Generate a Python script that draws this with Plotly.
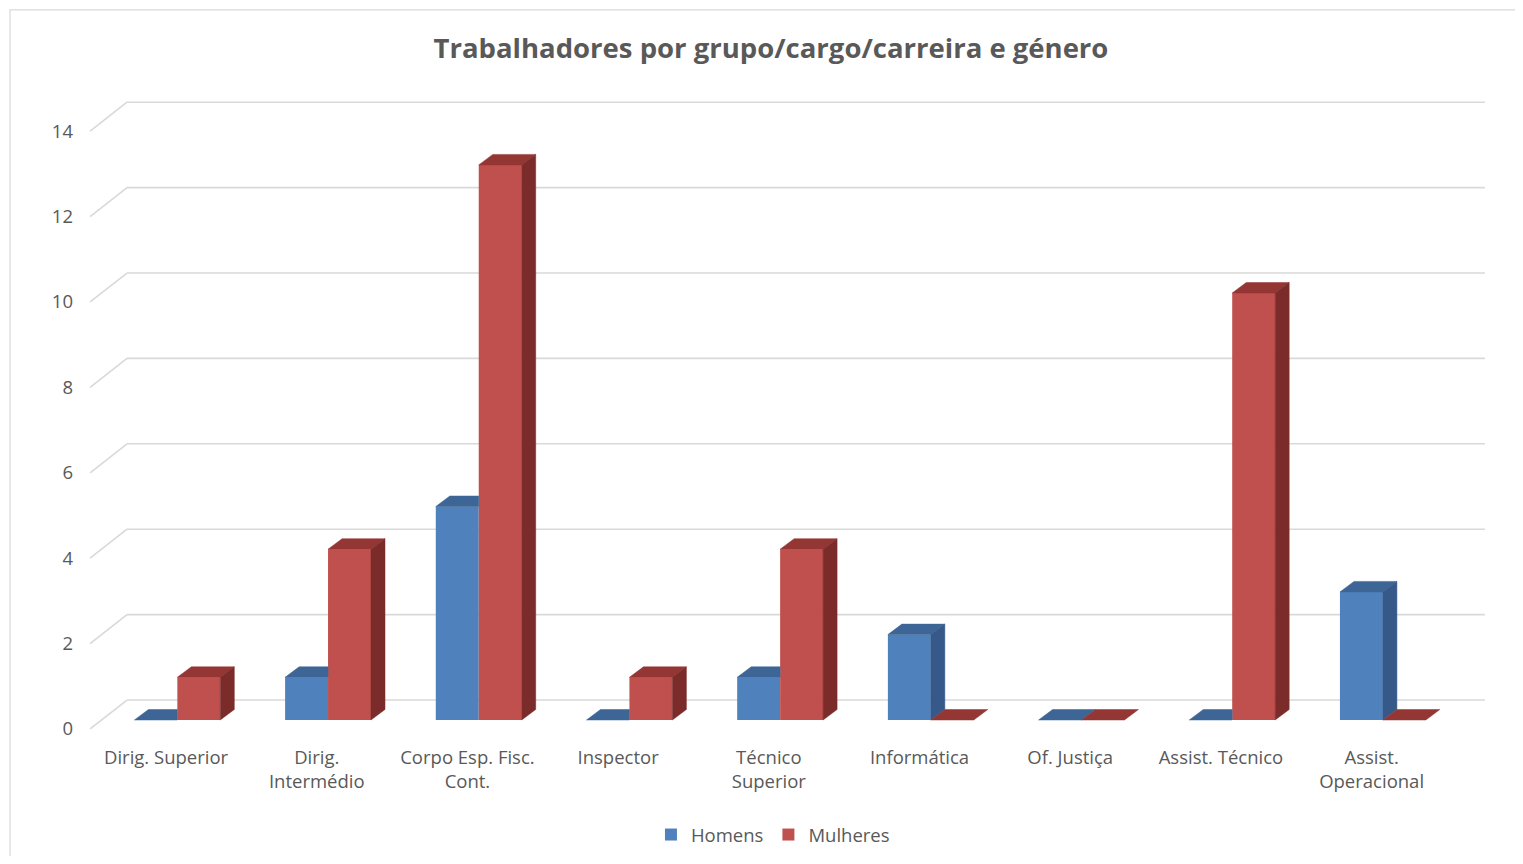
import plotly.graph_objects as go

categories = ["Dirig. Superior", "Dirig.<br>Intermédio", "Corpo Esp. Fisc.<br>Cont.", "Inspector",
              "Técnico<br>Superior", "Informática", "Of. Justiça", "Assist. Técnico", "Assist.<br>Operacional"]
homens = [0, 1, 5, 0, 1, 2, 0, 0, 3]
mulheres = [1, 4, 13, 1, 4, 0, 0, 10, 0]
y_ticks = [0, 2, 4, 6, 8, 10, 12, 14]

# pseudo-3D geometry (style constants, in axis units)
BAR_W = 0.285
OFF_H = -0.21
OFF_M = 0.075
DX = 0.093
DY = 0.246
BACK = 0.468
FRONT = -0.21
GRID_X0 = -0.259
GRID_X1 = 8.752
AXIS_X = -0.504

C_H = dict(front="#4F81BD", top="#3D6595", side="#36598A")
C_M = dict(front="#C0504D", top="#943634", side="#7B2C2A")

xs = list(range(len(categories)))

fig = go.Figure()
fig.add_trace(go.Bar(x=xs, y=homens, width=BAR_W, offset=OFF_H, name="Homens",
                     marker=dict(color=C_H["front"], line=dict(width=0)), hoverinfo="y"))
fig.add_trace(go.Bar(x=xs, y=mulheres, width=BAR_W, offset=OFF_M, name="Mulheres",
                     marker=dict(color=C_M["front"], line=dict(width=0)), hoverinfo="y"))


def poly_trace(px, py, color):
    return go.Scatter(x=px, y=py, mode="lines", fill="toself", fillcolor=color,
                      line=dict(color=color, width=0.5), hoverinfo="skip", showlegend=False)


# Homens top / side faces
tx, ty, sx, sy = [], [], [], []
for i, v in enumerate(homens):
    m = mulheres[i]
    x0 = i + OFF_H
    x1 = x0 + BAR_W
    if m > v:
        tx += [x0, x1, x1, x0 + DX, x0, None]
        ty += [v, v, v + DY, v + DY, v, None]
    else:
        tx += [x0, x1, x1 + DX, x0 + DX, x0, None]
        ty += [v, v, v + DY, v + DY, v, None]
        if v > 0:
            lo = m
            sx += [x1, x1, x1 + DX, x1 + DX, x1, None]
            sy += [lo, v, v + DY, lo + DY, lo, None]
fig.add_trace(poly_trace(tx, ty, C_H["top"]))
if sx:
    fig.add_trace(poly_trace(sx, sy, C_H["side"]))

# Mulheres top / side faces
tx, ty, sx, sy = [], [], [], []
for i, v in enumerate(mulheres):
    x0 = i + OFF_M
    x1 = x0 + BAR_W
    tx += [x0, x1, x1 + DX, x0 + DX, x0, None]
    ty += [v, v, v + DY, v + DY, v, None]
    if v > 0:
        sx += [x1, x1, x1 + DX, x1 + DX, x1, None]
        sy += [0, v, v + DY, DY, 0, None]
fig.add_trace(poly_trace(tx, ty, C_M["top"]))
fig.add_trace(poly_trace(sx, sy, C_M["side"]))

# back-wall gridlines and side-wall diagonals
shapes = []
for t in y_ticks:
    shapes.append(dict(type="line", xref="x", yref="y", x0=GRID_X0, x1=GRID_X1, y0=t + BACK, y1=t + BACK,
                       line=dict(color="#D9D9D9", width=1.6), layer="below"))
    shapes.append(dict(type="line", xref="x", yref="y", x0=AXIS_X, x1=GRID_X0, y0=t + FRONT, y1=t + BACK,
                       line=dict(color="#D9D9D9", width=1.6), layer="below"))
# chart border
shapes.append(dict(type="rect", xref="paper", yref="paper", x0=-0.0493, x1=1.05, y0=-0.3, y1=1.1235,
                   line=dict(color="#D9D9D9", width=1.2), fillcolor="rgba(0,0,0,0)", layer="below"))

fig.update_layout(
    width=1507, height=848,
    margin=dict(l=72, r=15, t=82, b=118, autoexpand=False),
    paper_bgcolor="white", plot_bgcolor="white",
    barmode="overlay",
    shapes=shapes,
    font=dict(family="Open Sans", size=18.5, color="#595959"),
    title=dict(text="Trabalhadores por grupo/cargo/carreira e género", x=0.5063, y=0.9528,
               xref="container", yref="container", xanchor="center", yanchor="middle",
               font=dict(family="Open Sans", size=27.5, color="#595959", weight=700)),
    xaxis=dict(range=[-0.571, 8.852], tickmode="array", tickvals=xs, ticktext=categories,
               showgrid=False, zeroline=False, showline=False, ticks="", ticklabelstandoff=6,
               automargin=False, tickfont=dict(size=18.5, color="#595959"), fixedrange=True),
    yaxis=dict(range=[-0.4215, 14.754], tickmode="array", tickvals=[t + FRONT for t in y_ticks],
               ticktext=[str(t) for t in y_ticks], showgrid=False, zeroline=False, showline=False,
               automargin=False, ticks="", ticklabelstandoff=6, tickfont=dict(size=18.5, color="#595959"),
               fixedrange=True),
    legend=dict(orientation="h", x=0.488, xanchor="center", y=-0.1497, yanchor="middle",
                font=dict(size=18.5, color="#595959"), itemwidth=30, traceorder="normal"),
    showlegend=True,
)

fig.write_html("out.html")
